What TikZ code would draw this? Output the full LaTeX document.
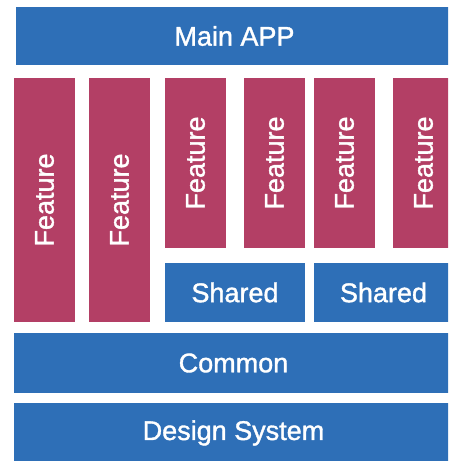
\documentclass[tikz,border=0pt]{standalone}
\usepackage{fontspec}
\setmainfont{Liberation Sans}
\newfontfamily\boxfont{Liberation Sans}[FakeBold=1.3]
\usepackage{graphicx}
\usetikzlibrary{positioning}
\definecolor{layerblue}{RGB}{46,111,183}
\definecolor{featurered}{RGB}{179,63,101}
\tikzset{
	layer/.style={
		fill=layerblue,
		text=white,
		inner sep=0pt,
		outer sep=0pt,
		minimum height=59pt,
		font=\boxfont\fontsize{27}{32}\selectfont,
	},
	feature/.style={
		fill=featurered,
		text=white,
		inner sep=0pt,
		outer sep=0pt,
		minimum width=61pt,
		minimum height=244pt,
		font=\boxfont\fontsize{27}{32}\selectfont,
	},
}

\begin{document}
\begin{tikzpicture}[x=1pt,y=-1pt]
		\useasboundingbox (0,0) rectangle (448,461);
		\fill[white] (0,0) rectangle (448,461);
		\clip (0,0) rectangle (448,461);
		
		\node [layer,minimum width=437pt,minimum height=58pt,anchor=north west] (main) at (16,7) {Main APP};
		
		\node [feature,anchor=north west] (f1) at (14,78) {\rotatebox{90}{Feature}};
		\node [feature] (f2) [right=14pt of f1] {\rotatebox{90}{Feature}};
		\node [feature,minimum height=170pt] (f3) [right=15pt of f2.north east,anchor=north west] {\rotatebox{90}{Feature}};
		\node [feature,minimum height=170pt] (f4) [right=18pt of f3] {\rotatebox{90}{Feature}};
		\node [feature,minimum height=170pt] (f5) [right=9pt of f4] {\rotatebox{90}{Feature}};
		\node [feature,minimum height=170pt] (f6) [right=18pt of f5] {\rotatebox{90}{Feature}};
		
		\node [layer,minimum width=140pt] (shared1) [below=15pt of f3.south west,anchor=north west] {Shared};
		\node [layer,minimum width=139pt] (shared2) [right=9pt of shared1] {Shared};
		
		\node [layer,minimum width=439pt,minimum height=60pt] (common) [below=11pt of f1.south west,anchor=north west] {Common};
		\node [layer,minimum width=439pt,minimum height=60pt] (design) [below=10pt of common.south west,anchor=north west] {Design System};
	\end{tikzpicture}
\end{document}
